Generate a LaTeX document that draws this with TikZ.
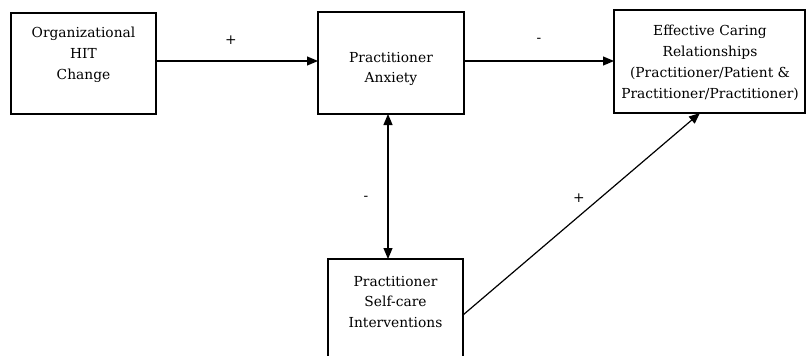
\documentclass[tikz,border=0pt]{standalone}
\usepackage{fontspec}
\setmainfont{DejaVu Serif}
\usetikzlibrary{arrows.meta}
\begin{document}
\begin{tikzpicture}[x=1pt,y=-1pt,
  box/.style={draw,line width=1.2pt},
  txt/.style={align=center,font=\fontsize{13.8}{20.8}\selectfont,inner sep=0pt},
  sign/.style={font=\fontsize{13.8}{16}\selectfont,inner sep=0pt},
  arr/.style={line width=1.2pt,-{Triangle[length=11pt,width=9pt]}},
  darr/.style={line width=1.2pt,{Triangle[length=11pt,width=9pt]}-{Triangle[length=11pt,width=9pt]}}]
\useasboundingbox (0,0) rectangle (806,356);
\clip (0,0) rectangle (806,356);
% boxes
\draw[box] (11,13) rectangle (156,114);
\draw[box] (318,12) rectangle (464,114);
\draw[box] (614,10) rectangle (805,113);
\draw[box] (328,259) rectangle (463,380);
% texts
\node[txt] (At) at (83.5,55) {Organizational\\HIT\\Change};
\node[txt] (Bt) at (391,69) {Practitioner\\Anxiety};
\node[txt] (Ct) at (710,63) {Effective Caring\\Relationships\\(Practitioner/Patient \&\\Practitioner/Practitioner)};
\node[txt] (Dt) at (395.5,302) {Practitioner\\Self-care\\Interventions};
% connectors
\coordinate (Aout) at (156,61);
\coordinate (Bin) at (318,61);
\coordinate (Bout) at (464,61);
\coordinate (Cin) at (614,61);
\coordinate (Bbot) at (388,114);
\coordinate (Dtop) at (388,259);
\coordinate (Dright) at (463,315);
\coordinate (Cbot) at (700,113);
\draw[arr] (Aout) -- (Bin);
\draw[arr] (Bout) -- (Cin);
\draw[darr] (Bbot) -- (Dtop);
\draw[arr] (Dright) -- (Cbot);
% signs
\node[sign] (s1) at (231,40) {+};
\node[sign] (s2) at (539,40) {-};
\node[sign] (s3) at (366,198) {-};
\node[sign] (s4) at (579,198) {+};
\end{tikzpicture}
\end{document}
